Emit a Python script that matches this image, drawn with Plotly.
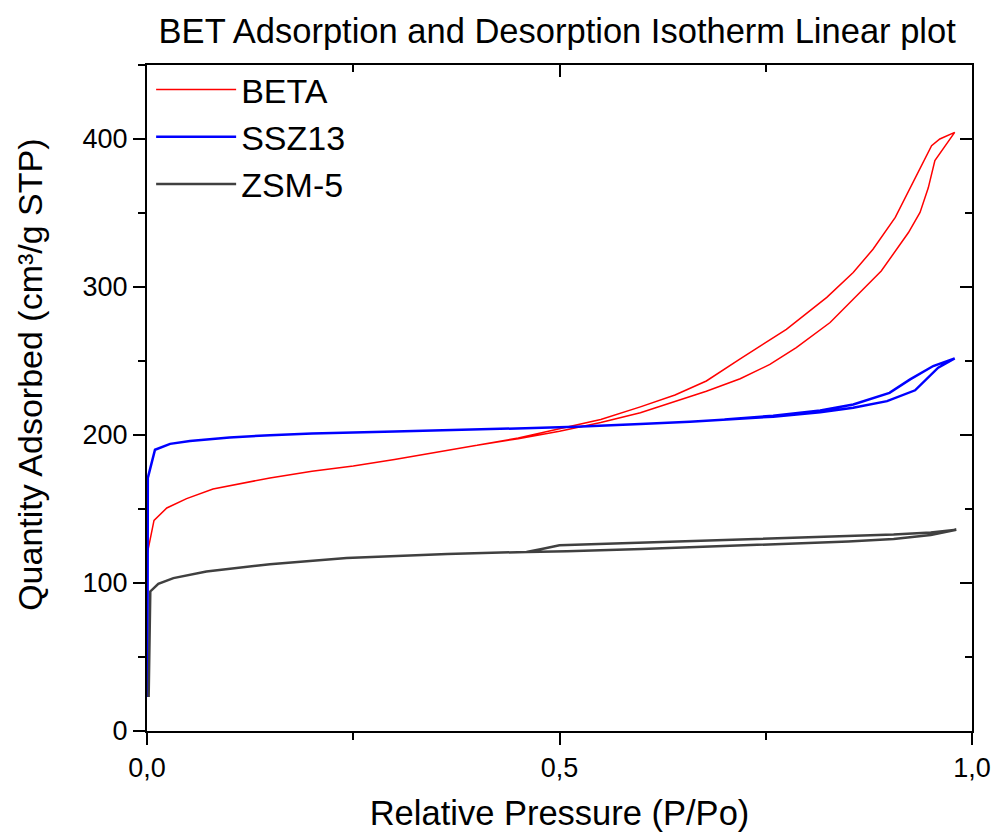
import plotly.graph_objects as go

# BET isotherms: adsorption branch (rising P/Po) followed by desorption branch (falling P/Po)
beta_p = [0.0004, 0.0085, 0.024, 0.048, 0.080, 0.149, 0.20, 0.25, 0.30, 0.355, 0.40, 0.45,
          0.50, 0.55, 0.598, 0.678, 0.719, 0.755, 0.787, 0.828, 0.856, 0.890, 0.923, 0.937,
          0.947, 0.955, 0.979,
          0.961, 0.951, 0.925, 0.907, 0.880, 0.856, 0.824, 0.775, 0.719, 0.678, 0.640,
          0.598, 0.55, 0.50, 0.45, 0.40]
beta_v = [120, 142.3, 150.7, 157, 163.5, 171, 175.5, 179, 183.5, 189, 193, 197.5,
          202.5, 208.5, 215, 229.6, 238, 247.7, 259, 276, 291.7, 310.8, 336.8, 350.4,
          367, 385.4, 404.5,
          400, 395.5, 367, 347, 325.5, 309.8, 293, 271.4, 251.5, 236.5, 227,
          219, 210.5, 204, 198, 193]

ssz13_p = [0.0005, 0.001, 0.0097, 0.028, 0.052, 0.10, 0.149, 0.20, 0.30, 0.355, 0.45,
           0.52, 0.598, 0.658, 0.759, 0.816, 0.856, 0.897, 0.931, 0.959, 0.979,
           0.953, 0.925, 0.90, 0.856, 0.816, 0.759, 0.70]
ssz13_v = [23, 171, 190, 194, 196, 198.3, 199.9, 201, 202.3, 203, 204.3,
           205.5, 207.5, 209, 212.4, 215.4, 218.4, 222.9, 230.2, 245.5, 251.8,
           246.6, 237.6, 228.5, 220.6, 216.6, 213, 210.5]

zsm5_p = [0.002, 0.004, 0.0137, 0.032, 0.072, 0.121, 0.149, 0.242, 0.364, 0.461, 0.509,
          0.60, 0.743, 0.85, 0.905, 0.95, 0.981,
          0.95, 0.905, 0.743, 0.60, 0.50, 0.48, 0.46]
zsm5_v = [23, 94.3, 99.5, 103.3, 107.8, 110.8, 112.7, 116.9, 119.6, 121, 121.4,
          123, 125.9, 128, 129.7, 132.5, 136,
          134.2, 132.7, 129.7, 127.5, 125.5, 123.2, 121]

x_ticks = [0.0, 0.5, 1.0]
x_tick_text = ["0,0", "0,5", "1,0"]
y_ticks = [0, 100, 200, 300, 400]

FONT = "Liberation Sans, Arial, sans-serif"

fig = go.Figure()
fig.add_trace(go.Scatter(x=beta_p, y=beta_v, mode="lines", name="BETA",
                         line=dict(color="#ff0000", width=1.5)))
fig.add_trace(go.Scatter(x=ssz13_p, y=ssz13_v, mode="lines", name="SSZ13",
                         line=dict(color="#0000ff", width=2.5)))
fig.add_trace(go.Scatter(x=zsm5_p, y=zsm5_v, mode="lines", name="ZSM-5",
                         line=dict(color="#404040", width=2.5)))
# empty trace that anchors the mirrored top/right axes
fig.add_trace(go.Scatter(x=[None], y=[None], xaxis="x2", yaxis="y2",
                         showlegend=False, hoverinfo="skip"))

axis_common = dict(showgrid=False, zeroline=False, showline=True,
                   linecolor="black", linewidth=2, tickcolor="black",
                   tickwidth=2, automargin=False)

fig.update_layout(
    width=995, height=832,
    margin=dict(l=147, r=23, t=65, b=101, autoexpand=False),
    paper_bgcolor="white", plot_bgcolor="white",
    font=dict(family=FONT, color="black"),
    title=dict(text="BET Adsorption and Desorption Isotherm Linear plot",
               x=0.56, xanchor="center", y=0.963, yanchor="middle",
               font=dict(size=34.5, family=FONT, color="black")),
    xaxis=dict(range=[0, 1.0], tickvals=x_ticks, ticktext=x_tick_text,
               ticks="outside", ticklen=12,
               minor=dict(dtick=0.25, ticks="outside", ticklen=7,
                          tickwidth=2, tickcolor="black", showgrid=False),
               tickfont=dict(size=27),
               title=dict(text="Relative Pressure (P/Po)", font=dict(size=34.5),
                          standoff=25),
               **axis_common),
    yaxis=dict(range=[0, 450], tickvals=y_ticks,
               ticks="outside", ticklen=12,
               minor=dict(dtick=50, ticks="outside", ticklen=7,
                          tickwidth=2, tickcolor="black", showgrid=False),
               tickfont=dict(size=27),
               **axis_common),
    xaxis2=dict(range=[0, 1.0], overlaying="x", side="top", anchor="y2",
                tickvals=x_ticks, showticklabels=False,
                ticks="inside", ticklen=12,
                minor=dict(dtick=0.25, ticks="inside", ticklen=7,
                           tickwidth=2, tickcolor="black", showgrid=False),
                **axis_common),
    yaxis2=dict(range=[0, 450], overlaying="y", side="right", anchor="x2",
                tickvals=y_ticks, showticklabels=False,
                ticks="inside", ticklen=12,
                minor=dict(dtick=50, ticks="inside", ticklen=7,
                           tickwidth=2, tickcolor="black", showgrid=False),
                **axis_common),
    legend=dict(x=0.005, y=1.006, xanchor="left", yanchor="top",
                bgcolor="rgba(0,0,0,0)", font=dict(size=34),
                tracegroupgap=0, itemwidth=80),
    annotations=[dict(text="Quantity Adsorbed (cm³/g STP)", textangle=-90,
                      xref="paper", yref="paper", x=-0.142, y=0.5345,
                      xanchor="center", yanchor="middle", showarrow=False,
                      font=dict(size=34, family=FONT, color="black"))],
    showlegend=True,
)

fig.write_html("out.html")
